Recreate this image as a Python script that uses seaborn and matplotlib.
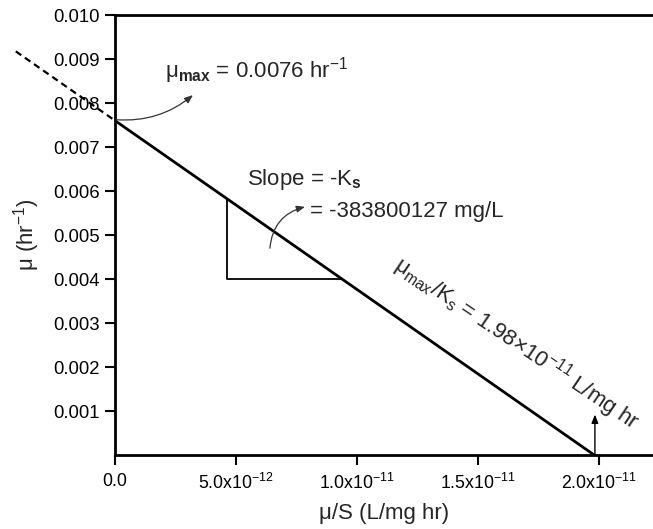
import numpy as np
import pandas as pd
import matplotlib
matplotlib.use("Agg")
import matplotlib.pyplot as plt
import seaborn as sns

# Lineweaver-Burk style fit: mu = mu_max - Ks * (mu/S)
mu_max = 0.0076
ks = 383800127
x_intercept = 1.98e-11

fit_x = [0.0, x_intercept]
fit_y = [mu_max, 0.0]
extrap_x = [-4.1e-12, 0.0]
extrap_y = [mu_max + 4.1e-12 * ks, mu_max]

# slope triangle
tri_x = [4.63e-12, 4.63e-12, 9.38e-12]
tri_y = [mu_max - 4.63e-12 * ks, 0.004, 0.004]

x_ticks = [0.0, 5e-12, 1e-11, 1.5e-11, 2e-11]
x_tick_labels = ["0.0", r"5.0x10$^{-12}$", r"1.0x10$^{-11}$",
                 r"1.5x10$^{-11}$", r"2.0x10$^{-11}$"]
y_ticks = [0.001, 0.002, 0.003, 0.004, 0.005, 0.006, 0.007, 0.008, 0.009, 0.010]
y_tick_labels = ["0.001", "0.002", "0.003", "0.004", "0.005",
                 "0.006", "0.007", "0.008", "0.009", "0.010"]

sns.set_style("ticks")
plt.rcParams["font.family"] = ["Liberation Sans", "DejaVu Sans"]
plt.rcParams["mathtext.fontset"] = "custom"
plt.rcParams["mathtext.rm"] = "Liberation Sans"
plt.rcParams["mathtext.it"] = "Liberation Sans"
plt.rcParams["mathtext.bf"] = "Liberation Sans:bold"

fig = plt.figure(figsize=(6.53, 5.29), dpi=100)
ax = fig.add_axes([115 / 653, 1 - 455 / 529, 538 / 653, 440 / 529])

df = pd.DataFrame({"x": fit_x, "y": fit_y})
sns.lineplot(data=df, x="x", y="y", ax=ax, color="black", lw=2)
ax.plot(extrap_x, extrap_y, color="black", lw=1.6, ls=(0, (3, 2)), clip_on=False)
ax.plot(tri_x, tri_y, color="black", lw=1.3)

ax.set_xlim(0, 2.223e-11)
ax.set_ylim(0, 0.010)
ax.set_xticks(x_ticks)
ax.set_xticklabels(x_tick_labels, fontsize=12.8)
ax.set_yticks(y_ticks)
ax.set_yticklabels(y_tick_labels, fontsize=13.3)
ax.tick_params(axis="both", direction="out", length=7, width=1.5,
               colors="black")
ax.tick_params(axis="x", pad=6)
ax.tick_params(axis="y", pad=4)
for side in ["left", "bottom", "top"]:
    ax.spines[side].set_linewidth(2)
    ax.spines[side].set_color("black")
ax.spines["right"].set_visible(False)

ax.set_xlabel("μ/S (L/mg hr)", fontsize=16, labelpad=7)
ax.set_ylabel(r"μ (hr$^{-1}$)", fontsize=16, labelpad=8)

# annotations
ax.text(2.07e-12, 0.00859, r"μ$_{\mathbf{max}}$ = 0.0076 hr$^{-1}$",
        fontsize=16, ha="left", va="baseline")
ax.annotate("", xy=(3.22e-12, 0.00818), xytext=(0.05e-12, 0.00762),
            arrowprops=dict(arrowstyle="-|>,head_length=0.5,head_width=0.2",
                            color="#333333", lw=0.9,
                            connectionstyle="arc3,rad=0.2",
                            shrinkA=0, shrinkB=0))

ax.text(5.45e-12, 0.006136, r"Slope = -K$_{\mathbf{s}}$", fontsize=16,
        ha="left", va="baseline")
ax.text(8.06e-12, 0.00541, "= -383800127 mg/L", fontsize=16,
        ha="left", va="baseline")
ax.annotate("", xy=(7.85e-12, 0.00564), xytext=(6.4e-12, 0.0047),
            arrowprops=dict(arrowstyle="-|>,head_length=0.5,head_width=0.2",
                            color="#333333", lw=0.9,
                            connectionstyle="arc3,rad=-0.35",
                            shrinkA=0, shrinkB=0))

ax.text(1.149e-11, 0.00425,
        r"μ$_{max}$/K$_s$ = 1.98×10$^{-11}$ L/mg hr",
        fontsize=16, rotation=-34, rotation_mode="anchor",
        ha="left", va="baseline")
ax.annotate("", xy=(1.983e-11, 0.00092), xytext=(1.983e-11, 0.0),
            arrowprops=dict(arrowstyle="-|>,head_length=0.5,head_width=0.2",
                            color="black", lw=1.0, shrinkA=0, shrinkB=0))

fig.savefig("out.png", dpi=100)
